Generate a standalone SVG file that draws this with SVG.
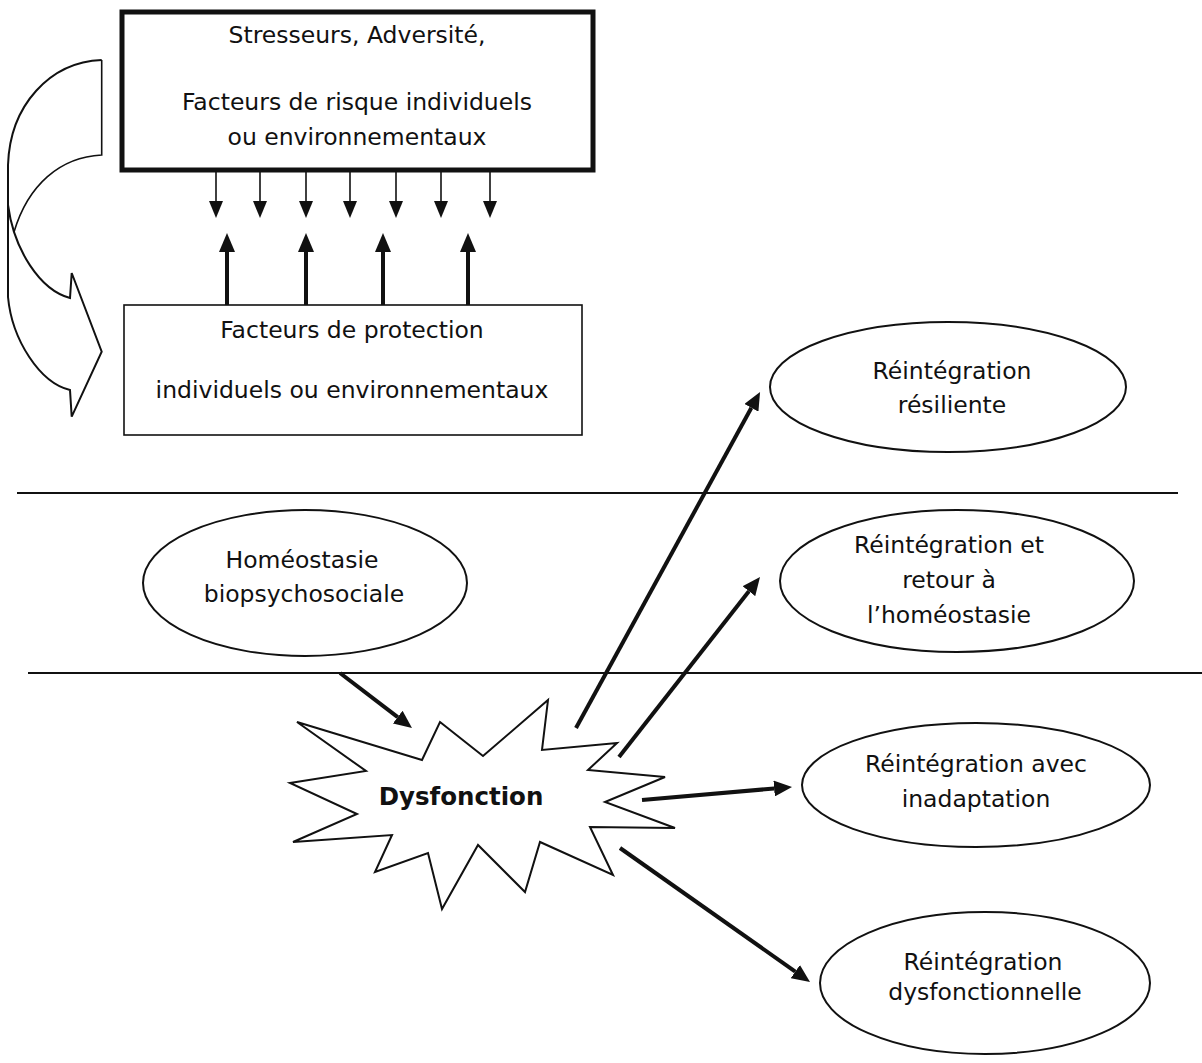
<svg xmlns="http://www.w3.org/2000/svg" width="1202" height="1063" viewBox="0 0 1202 1063">
<style>
text{font-family:"DejaVu Sans","Liberation Sans",sans-serif;font-size:23.5px;fill:#111;text-anchor:middle}
.shape{fill:#fff;stroke:#111;stroke-width:2}
.thin{stroke:#111;stroke-width:1.6;fill:none}
.thick{stroke:#111;stroke-width:4;fill:none}
.rule{stroke:#111;stroke-width:2}
</style>
<defs>
<marker id="hDown" markerUnits="userSpaceOnUse" markerWidth="18" markerHeight="14" refX="0" refY="7" orient="auto"><path d="M0,0 L17,7 L0,14 z" fill="#111"/></marker>
<marker id="hUp" markerUnits="userSpaceOnUse" markerWidth="20" markerHeight="16" refX="0" refY="8" orient="auto"><path d="M0,0 L19,8 L0,16 z" fill="#111"/></marker>
<marker id="hDiag" markerUnits="userSpaceOnUse" markerWidth="19" markerHeight="16" refX="0" refY="8" orient="auto"><path d="M0,0 L18,8 L0,16 z" fill="#111"/></marker>
</defs>
<rect width="1202" height="1063" fill="#fff"/>

<g id="separators">
<line class="rule" x1="17" y1="493" x2="1178" y2="493"/>
<line class="rule" x1="28" y1="673" x2="1202" y2="673"/>
</g>

<g id="curved-arrow">
<path class="shape" stroke-width="1.8" d="M101.7,60 C50,62 10,105 8,165 L8,297 C12,340 40,383 70,390 L71.7,416.7 L101.7,351.7 L71.7,273 L70,298 C40,290 14,250 8,205"/>
<path class="thin" d="M101.7,60 L101.7,155 C60,157 28,185 14,232"/>
</g>

<g id="stressors">
<rect x="122" y="12" width="471" height="158" fill="#fff" stroke="#111" stroke-width="5"/>
<text x="357" y="43">Stresseurs, Adversité,</text>
<text x="357" y="110">Facteurs de risque individuels</text>
<text x="357" y="145">ou environnementaux</text>
</g>

<g id="protection">
<rect x="124" y="305" width="458" height="130" fill="#fff" stroke="#111" stroke-width="1.6"/>
<text x="352" y="338">Facteurs de protection</text>
<text x="352" y="398">individuels ou environnementaux</text>
</g>

<g id="homeostasie">
<ellipse class="shape" cx="305" cy="583" rx="162" ry="73"/>
<text x="302" y="568">Homéostasie</text>
<text x="304" y="602">biopsychosociale</text>
</g>

<g id="dysfonction">
<polygon class="shape" points="440,722 483,756 548,700 542,750 617,743 588,770 665,777 605,802 675,828 590,827 613,875 540,842 525,892 478,845 442,909 428,853 375,872 392,835 293,842 357,814 290,783 366,771 297,722 422,760"/>
<text x="461" y="805" style="font-weight:bold;font-size:24.5px">Dysfonction</text>
</g>

<g id="resiliente">
<ellipse class="shape" cx="948" cy="387" rx="178" ry="65"/>
<text x="952" y="379">Réintégration</text>
<text x="952" y="413">résiliente</text>
</g>

<g id="retour">
<ellipse class="shape" cx="957" cy="581" rx="177" ry="71"/>
<text x="949" y="553">Réintégration et</text>
<text x="949" y="588">retour à</text>
<text x="949" y="623">l’homéostasie</text>
</g>

<g id="inadaptation">
<ellipse class="shape" cx="976" cy="785" rx="174" ry="62"/>
<text x="976" y="772">Réintégration avec</text>
<text x="976" y="807">inadaptation</text>
</g>

<g id="dysfonctionnelle">
<ellipse class="shape" cx="985" cy="983" rx="165" ry="71"/>
<text x="983" y="970">Réintégration</text>
<text x="985" y="1000">dysfonctionnelle</text>
</g>

<g id="connectors">
<line class="thin" x1="216" y1="172" x2="216" y2="201" marker-end="url(#hDown)"/>
<line class="thin" x1="260" y1="172" x2="260" y2="201" marker-end="url(#hDown)"/>
<line class="thin" x1="306" y1="172" x2="306" y2="201" marker-end="url(#hDown)"/>
<line class="thin" x1="350" y1="172" x2="350" y2="201" marker-end="url(#hDown)"/>
<line class="thin" x1="396" y1="172" x2="396" y2="201" marker-end="url(#hDown)"/>
<line class="thin" x1="441" y1="172" x2="441" y2="201" marker-end="url(#hDown)"/>
<line class="thin" x1="490" y1="172" x2="490" y2="201" marker-end="url(#hDown)"/>

<line class="thick" x1="227" y1="305" x2="227" y2="252" marker-end="url(#hUp)"/>
<line class="thick" x1="306" y1="305" x2="306" y2="252" marker-end="url(#hUp)"/>
<line class="thick" x1="383" y1="305" x2="383" y2="252" marker-end="url(#hUp)"/>
<line class="thick" x1="468" y1="305" x2="468" y2="252" marker-end="url(#hUp)"/>

<line class="thick" x1="340" y1="673" x2="397.7" y2="717.1" marker-end="url(#hDiag)"/>
<line class="thick" x1="576" y1="728" x2="751.4" y2="407.8" marker-end="url(#hDiag)"/>
<line class="thick" x1="619" y1="757" x2="748.9" y2="591.2" marker-end="url(#hDiag)"/>
<line class="thick" x1="642" y1="800" x2="774.1" y2="788.5" marker-end="url(#hDiag)"/>
<line class="thick" x1="620" y1="848" x2="795.3" y2="971.6" marker-end="url(#hDiag)"/>
</g>
</svg>
